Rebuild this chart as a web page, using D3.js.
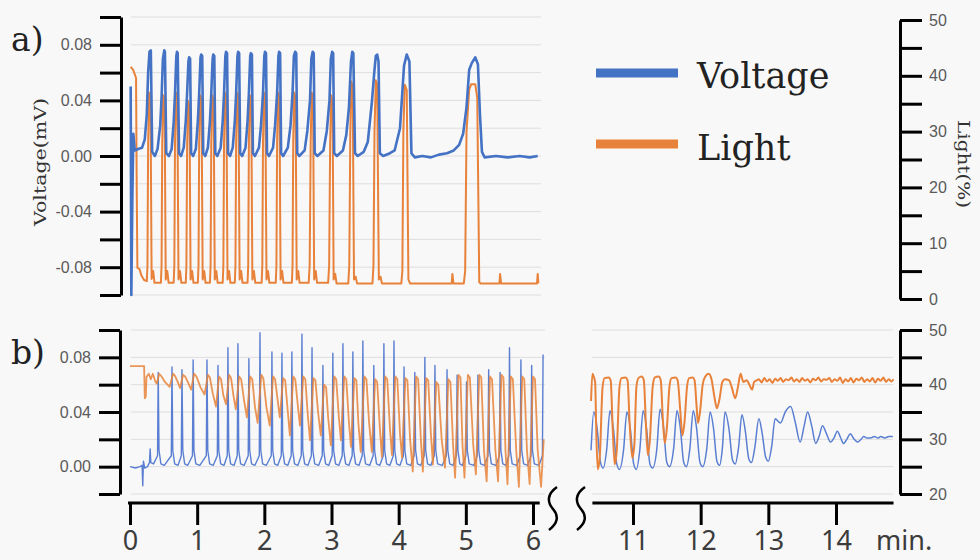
<!DOCTYPE html>
<html><head><meta charset="utf-8">
<script src="https://cdn.jsdelivr.net/npm/d3@7"></script>
<style>html,body{margin:0;padding:0;background:#f8f8f8;} svg{display:block}</style>
</head><body><svg id="c" width="980" height="560"></svg>
<script>
// ---------- DATA (time in minutes, voltage in mV, light in %) ----------
const voltA = [
[0.01,0.050],[0.02,-0.100],[0.035,-0.030],[0.05,0.016],[0.07,0.004],[0.12,0.005],[0.18,0.006],[0.22,0.012],[0.25,0.030],[0.27,0.060],[0.29,0.075],[0.31,0.076],[0.33,0.003],
[0.37,0.000],[0.41,0.005],[0.45,0.022],[0.47,0.042],[0.49,0.070],[0.51,0.076],[0.52,0.075],[0.54,0.002],
[0.58,0.000],[0.62,0.005],[0.65,0.024],[0.67,0.045],[0.69,0.072],[0.70,0.075],[0.71,0.074],[0.73,0.002],
[0.76,0.000],[0.80,0.006],[0.83,0.025],[0.85,0.045],[0.87,0.068],[0.88,0.071],[0.895,0.070],[0.91,0.002],
[0.94,0.000],[0.98,0.005],[1.01,0.025],[1.03,0.045],[1.05,0.071],[1.06,0.073],[1.075,0.072],[1.09,0.002],
[1.12,0.000],[1.16,0.006],[1.19,0.025],[1.21,0.045],[1.23,0.070],[1.24,0.073],[1.255,0.072],[1.27,0.002],
[1.30,0.000],[1.35,0.006],[1.38,0.025],[1.40,0.045],[1.42,0.072],[1.43,0.075],[1.445,0.074],[1.46,0.002],
[1.49,0.000],[1.53,0.006],[1.56,0.025],[1.58,0.045],[1.60,0.072],[1.61,0.075],[1.625,0.074],[1.64,0.002],
[1.67,0.000],[1.72,0.006],[1.75,0.025],[1.77,0.045],[1.79,0.072],[1.80,0.074],[1.815,0.073],[1.83,0.002],
[1.86,0.000],[1.92,0.006],[1.95,0.022],[1.98,0.045],[2.00,0.072],[2.01,0.075],[2.025,0.074],[2.04,0.002],
[2.07,0.000],[2.13,0.006],[2.16,0.022],[2.19,0.045],[2.21,0.072],[2.22,0.075],[2.235,0.074],[2.25,0.002],
[2.28,0.000],[2.35,0.006],[2.39,0.022],[2.42,0.045],[2.44,0.072],[2.46,0.075],[2.475,0.074],[2.49,0.002],
[2.52,0.000],[2.60,0.004],[2.64,0.018],[2.68,0.040],[2.70,0.070],[2.72,0.075],[2.735,0.074],[2.75,0.002],
[2.79,0.000],[2.88,0.004],[2.93,0.018],[2.97,0.040],[2.99,0.070],[3.01,0.075],[3.025,0.074],[3.04,0.002],
[3.08,0.000],[3.17,0.004],[3.22,0.015],[3.26,0.035],[3.29,0.068],[3.31,0.075],[3.325,0.074],[3.35,0.002],
[3.39,0.000],[3.48,0.003],[3.54,0.010],[3.60,0.038],[3.64,0.062],[3.66,0.072],[3.68,0.073],[3.70,0.068],[3.72,0.002],
[3.77,0.000],[3.87,0.002],[3.94,0.004],[4.02,0.020],[4.08,0.065],[4.12,0.073],[4.16,0.068],[4.19,0.002],
[4.24,-0.001],[4.35,0.000],[4.48,-0.001],[4.60,0.001],[4.72,0.002],[4.82,0.004],[4.90,0.008],[4.96,0.016],[5.01,0.035],[5.05,0.062],[5.09,0.067],[5.14,0.071],[5.18,0.066],[5.21,0.030],[5.24,0.003],[5.28,-0.001],[5.45,0.000],[5.62,-0.001],[5.80,0.000],[5.95,-0.001],[6.07,0.000]
];
const lightA = [
[0.01,41.6],[0.05,41.0],[0.09,39.6],[0.10,20],[0.11,5.6],[0.14,5.4],[0.17,4.2],[0.21,3.4],[0.25,3.2],[0.26,6],[0.27,28],[0.285,37],[0.305,36],[0.322,3.6],[0.345,5],[0.365,2.9],
[0.46,2.9],[0.47,6],[0.48,28],[0.495,36.5],[0.515,35.5],[0.532,3.5],[0.555,5],[0.575,2.9],
[0.65,2.9],[0.66,6],[0.67,28],[0.685,37],[0.705,36],[0.722,3.5],[0.745,5],[0.765,2.9],
[0.83,2.9],[0.84,6],[0.85,27],[0.865,35.5],[0.885,34.5],[0.902,3.5],[0.925,5],[0.945,2.9],
[1.01,2.9],[1.02,6],[1.03,28],[1.045,36.5],[1.065,35.5],[1.082,3.5],[1.105,5],[1.125,2.9],
[1.19,2.9],[1.20,6],[1.21,28],[1.225,36.5],[1.245,35.5],[1.262,3.5],[1.285,5],[1.305,2.9],
[1.38,2.9],[1.39,6],[1.40,28],[1.415,37],[1.435,36],[1.452,3.5],[1.475,5],[1.495,2.9],
[1.56,2.9],[1.57,6],[1.58,28],[1.595,37],[1.615,36],[1.632,3.5],[1.655,5],[1.675,2.9],
[1.75,2.9],[1.76,6],[1.77,28],[1.785,36.5],[1.805,35.5],[1.822,3.5],[1.845,5],[1.865,2.9],
[1.96,2.9],[1.97,6],[1.98,28],[1.995,37],[2.015,36],[2.032,3.5],[2.055,5],[2.075,2.9],
[2.17,2.9],[2.18,6],[2.19,28],[2.205,37],[2.225,36],[2.242,3.5],[2.265,5],[2.285,2.9],
[2.41,2.9],[2.42,6],[2.43,28],[2.445,37],[2.465,36],[2.482,3.5],[2.505,5],[2.525,2.9],
[2.66,2.9],[2.675,6],[2.69,28],[2.705,37],[2.725,36],[2.742,3.5],[2.765,5],[2.785,2.9],
[2.95,2.9],[2.965,6],[2.98,28],[2.995,36.5],[3.015,35.5],[3.032,3.5],[3.055,4.5],[3.075,2.8],
[3.25,2.8],[3.265,6],[3.28,30],[3.295,39],[3.315,38],[3.335,3.5],[3.36,4],[3.38,2.8],
[3.61,2.8],[3.625,6],[3.64,30],[3.66,39.2],[3.68,38.5],[3.705,3.5],[3.73,4],[3.75,2.8],
[4.04,2.8],[4.055,5],[4.07,30],[4.09,38.4],[4.12,37.5],[4.145,3.5],[4.17,2.8],
[4.79,2.8],[4.80,4.5],[4.815,2.8],[4.97,2.8],[4.99,5],[5.01,30],[5.05,37.5],[5.08,38.5],[5.14,38.5],[5.17,36],[5.20,3],[5.22,2.8],[5.50,2.8],[5.51,4.5],[5.525,2.8],[6.06,2.8],[6.07,4.5],[6.08,2.8]
];
const voltB = [
[0.00,0.000],[0.08,-0.001],[0.15,0.000],[0.18,0.001],[0.19,-0.014],[0.20,0.004],[0.22,-0.001],[0.26,0.000],[0.29,0.003],[0.30,0.013],[0.31,0.003],[0.35,0.002],
[0.41,0.008],[0.42,0.069],[0.432,0.012],[0.46,0.002],[0.51,0.001],
[0.615,0.008],[0.625,0.073],[0.637,0.012],[0.665,0.002],[0.715,0.001],
[0.764,0.008],[0.774,0.071],[0.786,0.012],[0.814,0.002],[0.86,0.001],
[0.93,0.008],[0.94,0.078],[0.952,0.012],[0.98,0.002],[1.04,0.001],
[1.136,0.008],[1.146,0.078],[1.158,0.012],[1.186,0.002],[1.24,0.001],
[1.30,0.008],[1.31,0.074],[1.322,0.012],[1.35,0.002],[1.40,0.001],
[1.448,0.008],[1.458,0.087],[1.47,0.012],[1.498,0.002],[1.55,0.001],
[1.597,0.008],[1.607,0.090],[1.619,0.012],[1.647,0.002],[1.70,0.001],
[1.76,0.008],[1.77,0.079],[1.782,0.012],[1.81,0.002],[1.86,0.001],
[1.925,0.008],[1.935,0.098],[1.947,0.012],[1.975,0.002],[2.03,0.001],
[2.103,0.008],[2.113,0.084],[2.125,0.012],[2.153,0.002],[2.20,0.001],
[2.252,0.008],[2.262,0.083],[2.274,0.012],[2.302,0.002],[2.35,0.001],
[2.40,0.008],[2.41,0.084],[2.422,0.012],[2.45,0.002],[2.50,0.001],
[2.55,0.008],[2.56,0.097],[2.572,0.012],[2.60,0.002],[2.65,0.001],
[2.70,0.008],[2.71,0.087],[2.722,0.012],[2.75,0.002],[2.81,0.001],
[2.862,0.008],[2.872,0.074],[2.884,0.012],[2.912,0.002],[2.96,0.001],
[3.01,0.008],[3.02,0.083],[3.032,0.012],[3.06,0.002],[3.11,0.001],
[3.16,0.008],[3.17,0.090],[3.182,0.012],[3.21,0.002],[3.26,0.001],
[3.308,0.008],[3.318,0.084],[3.33,0.012],[3.358,0.002],[3.41,0.001],
[3.457,0.008],[3.467,0.092],[3.479,0.012],[3.507,0.002],[3.57,0.001],
[3.62,0.008],[3.63,0.074],[3.642,0.012],[3.67,0.002],[3.72,0.001],
[3.77,0.008],[3.78,0.090],[3.792,0.012],[3.82,0.002],[3.87,0.001],
[3.92,0.008],[3.93,0.092],[3.942,0.012],[3.97,0.002],[4.02,0.001],
[4.07,0.008],[4.08,0.073],[4.092,0.012],[4.12,0.002],[4.18,0.001],
[4.23,0.008],[4.24,0.069],[4.252,0.012],[4.28,0.002],[4.33,0.001],
[4.38,0.008],[4.39,0.080],[4.402,0.012],[4.43,0.002],[4.48,0.001],
[4.53,0.008],[4.54,0.074],[4.552,0.012],[4.58,0.002],[4.65,0.001],
[4.71,0.008],[4.72,0.071],[4.732,0.012],[4.76,0.002],[4.81,0.001],
[4.86,0.008],[4.87,0.067],[4.882,0.012],[4.91,0.002],[4.95,0.001],
[5.00,0.008],[5.01,0.062],[5.022,0.012],[5.05,0.002],[5.12,0.001],
[5.17,0.008],[5.18,0.067],[5.192,0.012],[5.22,0.002],[5.28,0.001],
[5.33,0.008],[5.34,0.071],[5.352,0.012],[5.38,0.002],[5.45,0.001],
[5.50,0.008],[5.51,0.069],[5.522,0.012],[5.55,0.002],[5.60,0.001],
[5.64,0.008],[5.65,0.087],[5.662,0.012],[5.69,0.002],[5.76,0.001],
[5.81,0.008],[5.82,0.078],[5.832,0.012],[5.86,0.002],[5.92,0.001],
[5.97,0.008],[5.98,0.074],[5.992,0.012],[6.02,0.002],[6.09,0.001],
[6.14,0.008],[6.15,0.082]
];
const lightB = [
[0.00,43.4],[0.21,43.4],[0.22,37.5],[0.235,37.8],[0.245,41.4],[0.28,42],[0.31,41],[0.34,42],[0.38,40.5],[0.40,40.2],
[0.435,42],[0.47,41.5],[0.52,40.5],[0.59,39.6],
[0.64,42],[0.67,41.6],[0.71,40.5],[0.745,39.4],
[0.79,41.8],[0.82,41.5],[0.86,40.5],[0.91,39.1],
[0.955,42],[0.99,41.5],[1.05,39.5],[1.11,38.2],
[1.16,41.8],[1.19,41.3],[1.23,38.5],[1.28,36],
[1.325,41.5],[1.355,41],[1.39,38],[1.43,36.4],
[1.475,41.8],[1.505,41.2],[1.54,38],[1.575,35.5],
[1.625,41.5],[1.655,41],[1.70,37],[1.74,34],
[1.79,41.5],[1.82,41],[1.86,36],[1.90,33],
[1.955,41.8],[1.985,41.2],[2.03,36],[2.08,32.5],
[2.13,41.5],[2.16,41],[2.20,37],[2.23,34],
[2.28,41.2],[2.31,40.8],[2.35,35],[2.38,30.7],
[2.43,41.5],[2.46,41],[2.50,36],[2.53,32.5],
[2.58,41.5],[2.61,41],[2.65,34],[2.68,29.8],
[2.73,41.2],[2.76,40.8],[2.80,35],[2.84,30.7],
[2.89,40],[2.92,39.5],[2.95,34],[2.99,28.9],
[3.04,41.5],[3.07,41],[3.11,34],[3.14,29.8],
[3.19,41.5],[3.22,41],[3.26,33],[3.29,28.6],
[3.34,41.2],[3.37,40.8],[3.40,33],[3.435,27.7],
[3.49,41.5],[3.52,41],[3.56,33],[3.60,27.7],
[3.65,41],[3.68,40.5],[3.72,32],[3.75,26.8],
[3.80,41.5],[3.83,41],[3.87,32],[3.90,27.1],
[3.95,41.5],[3.98,41],[4.02,31],[4.05,26.6],
[4.10,41.2],[4.13,40.8],[4.17,30],[4.21,24.1],
[4.26,41.5],[4.29,41],[4.33,30],[4.36,24.1],
[4.41,41.2],[4.44,40.8],[4.48,31],[4.51,25.4],
[4.56,40.5],[4.59,40],[4.64,30],[4.69,24.8],
[4.74,41],[4.77,40.5],[4.81,29],[4.84,23],
[4.89,41.8],[4.92,41.3],[4.95,29],[4.98,23],
[5.03,41.8],[5.06,41.3],[5.11,29],[5.15,23.6],
[5.20,41.8],[5.23,41.3],[5.27,28],[5.31,22.3],
[5.36,41.5],[5.39,41],[5.44,28],[5.48,22.3],
[5.53,41.8],[5.56,41.3],[5.59,28],[5.62,21.8],
[5.67,41.5],[5.70,41],[5.75,28],[5.79,21.3],
[5.84,41.5],[5.87,41],[5.91,28],[5.95,21.8],
[6.00,41.5],[6.03,41],[6.07,28],[6.12,21.3],
[6.16,30]
];
const voltBR = [
[10.38,0.012],[10.42,0.040],[10.47,0.028],[10.52,0.003],[10.56,-0.001],[10.61,0.012],
[10.66,0.041],[10.71,0.028],[10.76,0.002],[10.80,-0.002],[10.86,0.012],
[10.91,0.040],[10.96,0.028],[11.01,0.002],[11.05,-0.002],[11.10,0.012],
[11.15,0.041],[11.20,0.028],[11.25,0.002],[11.29,-0.001],[11.35,0.012],
[11.40,0.042],[11.45,0.029],[11.50,0.003],[11.54,0.000],[11.60,0.013],
[11.65,0.041],[11.70,0.028],[11.75,0.003],[11.79,0.000],[11.84,0.013],
[11.89,0.041],[11.94,0.028],[11.99,0.003],[12.03,0.000],[12.09,0.013],
[12.14,0.040],[12.19,0.028],[12.24,0.004],[12.28,0.001],[12.32,0.013],
[12.36,0.040],[12.42,0.027],[12.47,0.005],[12.51,0.002],[12.56,0.014],
[12.61,0.038],[12.66,0.026],[12.71,0.006],[12.75,0.003],[12.80,0.014],
[12.86,0.035],[12.91,0.024],[12.96,0.007],[13.00,0.004],[13.05,0.015],
[13.10,0.035],[13.18,0.032],[13.25,0.040],[13.33,0.044],[13.40,0.032],[13.47,0.018],
[13.53,0.030],[13.58,0.040],[13.64,0.030],[13.70,0.017],[13.75,0.022],[13.80,0.030],[13.86,0.024],[13.92,0.018],[13.97,0.021],[14.02,0.026],[14.07,0.021],[14.11,0.017],[14.16,0.020],[14.21,0.024],[14.27,0.020],[14.32,0.018],[14.37,0.020],[14.41,0.022],[14.46,0.021],[14.51,0.021],[14.57,0.022],[14.62,0.021],[14.66,0.022],[14.72,0.021],[14.78,0.022],[14.84,0.022]
];
const lightBR = [
[10.38,37],[10.40,42],[10.42,41.5],[10.44,40.5],[10.46,30],[10.48,24.5],[10.51,27],[10.55,39.5],[10.58,41.2],[10.64,41.3],[10.67,40.8],[10.70,32],[10.73,25.4],[10.76,28],[10.80,39.5],[10.83,41.2],[10.89,41.3],[10.92,40.8],[10.95,33],[10.99,26.6],[11.02,29],[11.05,39.5],[11.08,41.2],[11.13,41.5],[11.16,40.8],[11.19,33],[11.22,27.1],[11.25,30],[11.29,39.5],[11.32,41.3],[11.38,41.5],[11.41,40.8],[11.44,34],[11.47,29.3],[11.50,32],[11.54,39.8],[11.57,41.2],[11.63,41.3],[11.66,40.8],[11.70,35],[11.73,30.7],[11.76,33],[11.80,39.8],[11.83,41.2],[11.88,41.3],[11.91,40.8],[11.94,36],[11.96,33],[11.99,35],[12.03,40],[12.06,41.3],[12.12,42],[12.16,41],[12.20,38],[12.24,35.7],[12.28,37.5],[12.32,40.5],[12.36,41],[12.42,40.8],[12.46,39.5],[12.51,37.5],[12.55,39.5],[12.59,42],[12.63,40.5],[12.68,40.8],[12.72,40],[12.76,39.1],[12.79,40.5],[12.83,40.8],
[12.86,41],[12.90,40.4],[12.94,41.2],[12.98,40.6],[13.02,41],[13.06,40.3],[13.10,41.1],[13.14,40.7],[13.18,41.2],[13.22,40.5],[13.26,41],[13.30,40.8],[13.34,41.3],[13.38,40.6],[13.42,41],[13.46,40.5],[13.50,41.2],[13.54,40.7],[13.58,41],[13.62,40.4],[13.66,41.1],[13.70,40.8],[13.74,41.3],[13.78,40.6],[13.82,41],[13.86,40.9],[13.90,41.2],[13.94,40.5],[13.98,41],[14.02,40.7],[14.06,41.3],[14.10,40.3],[14.14,41],[14.18,40.6],[14.22,41.2],[14.26,40.4],[14.30,41.1],[14.34,40.8],[14.38,41.3],[14.42,40.5],[14.46,41],[14.50,40.6],[14.54,41.2],[14.58,40.4],[14.62,41.1],[14.66,40.7],[14.70,41.3],[14.74,40.5],[14.78,41],[14.82,40.6],[14.85,41]
];

// ticks and labels
const voltTicksA = [-0.1,-0.08,-0.06,-0.04,-0.02,0,0.02,0.04,0.06,0.08,0.1];
const voltTextA  = ['','-0.08','','-0.04','','0.00','','0.04','','0.08',''];
const lightTicksA = [0,5,10,15,20,25,30,35,40,45,50];
const lightTextA  = ['0','','10','','20','','30','','40','','50'];
const voltTicksB = [-0.02,0,0.02,0.04,0.06,0.08,0.1];
const voltTextB  = ['','0.00','','0.04','','0.08',''];
const lightTicksB = [20,25,30,35,40,45,50];
const lightTextB  = ['20','','30','','40','','50'];
const timeTicksL = [0,1,2,3,4,5,6];
const timeTicksR = [11,12,13,14];
const seriesNames = ['Voltage','Light'];

// ---------- DRAW ----------
const BLUE = '#4472C4', ORANGE = '#E8823A';
const svg = d3.select('#c');
svg.append('rect').attr('width',980).attr('height',560).attr('fill','#f8f8f8');

const xL = d3.scaleLinear().domain([0,6]).range([130,533]);
const xR = d3.scaleLinear().domain([11,14]).range([633,836]);
const yVa = d3.scaleLinear().domain([-0.1,0.1]).range([295,17]);
const yLa = d3.scaleLinear().domain([0,50]).range([299,20]);
const yVb = d3.scaleLinear().domain([-0.02,0.10]).range([494,330]);
const yLb = d3.scaleLinear().domain([20,50]).range([494,330]);

// grids
const grid = svg.append('g').attr('stroke','#dedede').attr('stroke-width',1);
voltTicksA.forEach(v=>grid.append('line').attr('x1',131).attr('x2',541).attr('y1',yVa(v)).attr('y2',yVa(v)));
voltTicksB.forEach(v=>{
  grid.append('line').attr('x1',131).attr('x2',545).attr('y1',yVb(v)).attr('y2',yVb(v));
  grid.append('line').attr('x1',592).attr('x2',893).attr('y1',yVb(v)).attr('y2',yVb(v));
});

// lines
const mk = (x,y,curve)=>d3.line().x(d=>x(d[0])).y(d=>y(d[1])).curve(curve||d3.curveLinear);
svg.append('path').datum(lightA).attr('d',mk(xL,yLa)).attr('fill','none').attr('stroke',ORANGE).attr('stroke-width',2).attr('stroke-linejoin','round');
svg.append('path').datum(voltA).attr('d',mk(xL,yVa)).attr('fill','none').attr('stroke',BLUE).attr('stroke-width',2.6).attr('stroke-linejoin','round');

svg.append('path').datum(voltB).attr('d',mk(xL,yVb)).attr('fill','none').attr('stroke','#5a7fd2').attr('stroke-width',1.4).attr('stroke-linejoin','round');
svg.append('path').datum(lightB).attr('d',mk(xL,yLb)).attr('fill','none').attr('stroke',ORANGE).attr('stroke-width',1.8).attr('stroke-opacity',0.85).attr('stroke-linejoin','round');
svg.append('path').datum(voltBR).attr('d',mk(xR,yVb,d3.curveMonotoneX)).attr('fill','none').attr('stroke','#5a7fd2').attr('stroke-width',1.5);
svg.append('path').datum(lightBR).attr('d',mk(xR,yLb,d3.curveMonotoneX)).attr('fill','none').attr('stroke',ORANGE).attr('stroke-width',2);

// axes
function styleAxis(g, fs, fill, family){
  g.selectAll('.domain').attr('stroke','#000').attr('stroke-width',3);
  g.selectAll('.tick line').attr('stroke','#000').attr('stroke-width',3);
  g.selectAll('text').attr('font-size',fs).attr('fill',fill).attr('font-family',family);
}
const SANS = 'Liberation Sans, Arial, sans-serif';
let g;
g = svg.append('g').attr('transform','translate(121,0)')
  .call(d3.axisLeft(yVa).tickValues(voltTicksA).tickFormat((d,i)=>voltTextA[i]).tickSize(21).tickSizeOuter(0).tickPadding(8));
styleAxis(g,16,'#5a5a5a',SANS);
g = svg.append('g').attr('transform','translate(900,0)')
  .call(d3.axisRight(yLa).tickValues(lightTicksA).tickFormat((d,i)=>lightTextA[i]).tickSize(22).tickSizeOuter(0).tickPadding(7));
styleAxis(g,16,'#5a5a5a',SANS);
g = svg.append('g').attr('transform','translate(120,0)')
  .call(d3.axisLeft(yVb).tickValues(voltTicksB).tickFormat((d,i)=>voltTextB[i]).tickSize(21).tickSizeOuter(0).tickPadding(8));
styleAxis(g,16,'#5a5a5a',SANS);
g = svg.append('g').attr('transform','translate(900,0)')
  .call(d3.axisRight(yLb).tickValues(lightTicksB).tickFormat((d,i)=>lightTextB[i]).tickSize(22).tickSizeOuter(0).tickPadding(7));
styleAxis(g,16,'#5a5a5a',SANS);

const XFONT = 'Noto Sans, sans-serif';
g = svg.append('g').attr('transform','translate(0,503)')
  .call(d3.axisBottom(xL).tickValues(timeTicksL).tickFormat(d3.format('d')).tickSize(22).tickSizeOuter(0).tickPadding(6));
g.select('.domain').remove();
styleAxis(g,27,'#3c3c3c',XFONT);
g = svg.append('g').attr('transform','translate(0,503)')
  .call(d3.axisBottom(xR).tickValues(timeTicksR).tickFormat(d3.format('d')).tickSize(22).tickSizeOuter(0).tickPadding(6));
g.select('.domain').remove();
styleAxis(g,27,'#3c3c3c',XFONT);
svg.append('line').attr('x1',xL(-0.03)).attr('x2',xL(6.1)).attr('y1',503).attr('y2',503).attr('stroke','#000').attr('stroke-width',3);
svg.append('line').attr('x1',xR(10.4)).attr('x2',xR(14.85)).attr('y1',503).attr('y2',503).attr('stroke','#000').attr('stroke-width',3);
svg.append('text').attr('x',876).attr('y',550).attr('font-family',XFONT).attr('font-size',27).attr('fill','#3c3c3c').text('min.');

// axis break marks
['M557,487 C547,494 547,502 553,509 C559,516 558,523 549,530','M585,487 C575,494 575,502 581,509 C587,516 586,523 577,530']
 .forEach(p=>svg.append('path').attr('d',p).attr('fill','none').attr('stroke','#000').attr('stroke-width',2.5));

// axis titles
const SERIF = 'DejaVu Serif, serif';
svg.append('text').attr('transform','translate(46,162) rotate(-90)').attr('text-anchor','middle')
  .attr('font-family',SERIF).attr('font-size',16).attr('fill','#333').attr('textLength',128).attr('lengthAdjust','spacingAndGlyphs').text('Voltage(mV)');
svg.append('text').attr('transform','translate(958,164) rotate(90)').attr('text-anchor','middle')
  .attr('font-family',SERIF).attr('font-size',16).attr('fill','#333').attr('textLength',88).attr('lengthAdjust','spacingAndGlyphs').text('Light(%)');

// panel labels
svg.append('text').attr('x',11).attr('y',51).attr('font-family',SERIF).attr('font-size',33).attr('fill','#222').text('a)');
svg.append('text').attr('x',11).attr('y',364).attr('font-family',SERIF).attr('font-size',33).attr('fill','#222').text('b)');

// legend
const leg = svg.append('g');
[[BLUE,73,88],[ORANGE,144,160]].forEach((r,i)=>{
  leg.append('line').attr('x1',596).attr('x2',678).attr('y1',r[1]).attr('y2',r[1]).attr('stroke',r[0]).attr('stroke-width',9);
  leg.append('text').attr('x',697).attr('y',r[2]).attr('font-family',SERIF).attr('font-size',35).attr('fill','#222').text(seriesNames[i]);
});
</script></body></html>
